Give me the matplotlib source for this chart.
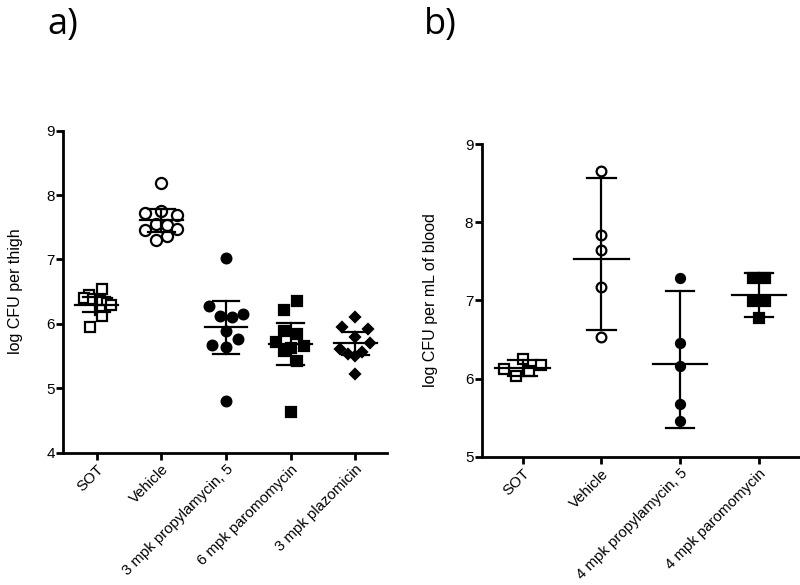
import matplotlib
matplotlib.use('Agg')
import matplotlib.pyplot as plt
import numpy as np

plt.rcParams['font.family'] = ['Liberation Sans', 'DejaVu Sans']

# ---- panel a: log CFU per thigh
groups_a = ['SOT', 'Vehicle', '3 mpk propylamycin, 5', '6 mpk paromomycin', '3 mpk plazomicin']
sot_a = [6.54, 6.45, 6.40, 6.38, 6.35, 6.33, 6.30, 6.22, 6.12, 5.95]
veh_a = [8.18, 7.76, 7.72, 7.69, 7.55, 7.54, 7.48, 7.46, 7.37, 7.31]
pro_a = [7.02, 6.27, 6.13, 6.11, 6.15, 5.89, 5.67, 5.77, 5.64, 4.80]
par_a = [6.22, 6.36, 5.89, 5.84, 5.72, 5.65, 5.62, 5.58, 5.43, 4.63]
pla_a = [6.10, 5.95, 5.92, 5.80, 5.61, 5.71, 5.54, 5.50, 5.57, 5.22]
mean_a = [6.30, 7.61, 5.95, 5.69, 5.70]
lo_a = [6.19, 7.43, 5.54, 5.36, 5.51]
hi_a = [6.42, 7.79, 6.35, 6.02, 5.87]

# ---- panel b: log CFU per mL of blood
groups_b = ['SOT', 'Vehicle', '4 mpk propylamycin, 5', '4 mpk paromomycin']
sot_b = [6.25, 6.12, 6.17, 6.03, 6.10]
veh_b = [8.65, 7.84, 7.64, 7.17, 6.53]
pro_b = [7.29, 6.46, 6.16, 5.68, 5.46]
par_b = [7.29, 7.29, 6.99, 6.99, 6.77]
mean_b = [6.13, 7.53, 6.18, 7.07]
lo_b = [6.03, 6.62, 5.37, 6.79]
hi_b = [6.24, 8.57, 7.12, 7.35]

# horizontal spread of the dots (scatter layout, category units)
jit_a = [
    [0.09, -0.12, -0.19, -0.05, 0.05, 0.16, 0.22, 0.05, 0.09, -0.10],
    [0, 0, -0.25, 0.24, -0.08, 0.08, 0.24, -0.25, 0.08, -0.08],
    [0, -0.26, -0.09, 0.09, 0.26, 0, -0.21, 0.19, 0, 0],
    [-0.10, 0.09, -0.10, 0.09, -0.22, 0.20, 0, -0.10, 0.09, 0],
    [0, -0.21, 0.19, 0, -0.24, 0.23, -0.11, 0, 0.10, 0],
]
jit_b = [
    [0, -0.24, 0.23, -0.08, 0.08],
    [0, 0, 0, 0, 0],
    [0, 0, 0, 0, 0],
    [-0.08, 0.08, -0.08, 0.08, 0],
]

# marker styles: (marker, filled)
sty_a = [('s', False), ('o', False), ('o', True), ('s', True), ('D', True)]
sty_b = [('s', False), ('o', False), ('o', True), ('s', True)]
msz_a = [7.5, 8, 7, 7, 5]
msz_b = [7, 7, 6.5, 7]


def draw(ax, groups, data, jit, sty, msz, mean, lo, hi, meanw, capw):
    for i, vals in enumerate(data):
        x = i + np.array(jit[i])
        m, filled = sty[i]
        ax.plot(x, vals, m, ls='none', ms=msz[i], mec='black', mew=1.6,
                mfc='black' if filled else 'white', zorder=3)
        ax.plot([i, i], [lo[i], hi[i]], color='black', lw=1.6, zorder=4)
        ax.plot([i - capw / 2, i + capw / 2], [lo[i], lo[i]], color='black', lw=1.6, zorder=4)
        ax.plot([i - capw / 2, i + capw / 2], [hi[i], hi[i]], color='black', lw=1.6, zorder=4)
        ax.plot([i - meanw / 2, i + meanw / 2], [mean[i], mean[i]], color='black', lw=1.6, zorder=4)
    ax.set_xticks(range(len(groups)))
    ax.set_xticklabels(groups, rotation=45, ha='right', rotation_mode='anchor')
    ax.spines['top'].set_visible(False)
    ax.spines['right'].set_visible(False)
    ax.spines['left'].set_linewidth(2)
    ax.spines['bottom'].set_linewidth(2)
    ax.tick_params(axis='both', width=2, length=5, labelsize=11, direction='out', pad=2)
    ax.tick_params(axis='x', labelsize=10.8)
    ax.tick_params(axis='y', pad=1)


fig = plt.figure(figsize=(8, 5.85), dpi=100)

ax1 = fig.add_axes([0.0788, 0.2262, 0.405, 0.5504])
draw(ax1, groups_a, [sot_a, veh_a, pro_a, par_a, pla_a], jit_a, sty_a, msz_a,
     mean_a, lo_a, hi_a, 0.66, 0.41)
ax1.set_xlim(-0.52, 4.49)
ax1.set_ylim(4, 9)
ax1.set_yticks([4, 5, 6, 7, 8, 9])
ax1.set_ylabel('log CFU per thigh', fontsize=11.5, labelpad=17)

ax2 = fig.add_axes([0.6021, 0.2193, 0.397, 0.5345])
draw(ax2, groups_b, [sot_b, veh_b, pro_b, par_b], jit_b, sty_b, msz_b,
     mean_b, lo_b, hi_b, 0.69, 0.36)
ax2.set_xlim(-0.52, 3.51)
ax2.set_ylim(5, 9)
ax2.set_yticks([5, 6, 7, 8, 9])
ax2.set_ylabel('log CFU per mL of blood', fontsize=11.5, labelpad=19)

fig.text(0.078, 0.958, 'a)', fontsize=26, ha='center', va='center', family=['Open Sans', 'DejaVu Sans'])
fig.text(0.55, 0.958, 'b)', fontsize=26, ha='center', va='center', family=['Open Sans', 'DejaVu Sans'])

fig.savefig('out.png', dpi=100)
